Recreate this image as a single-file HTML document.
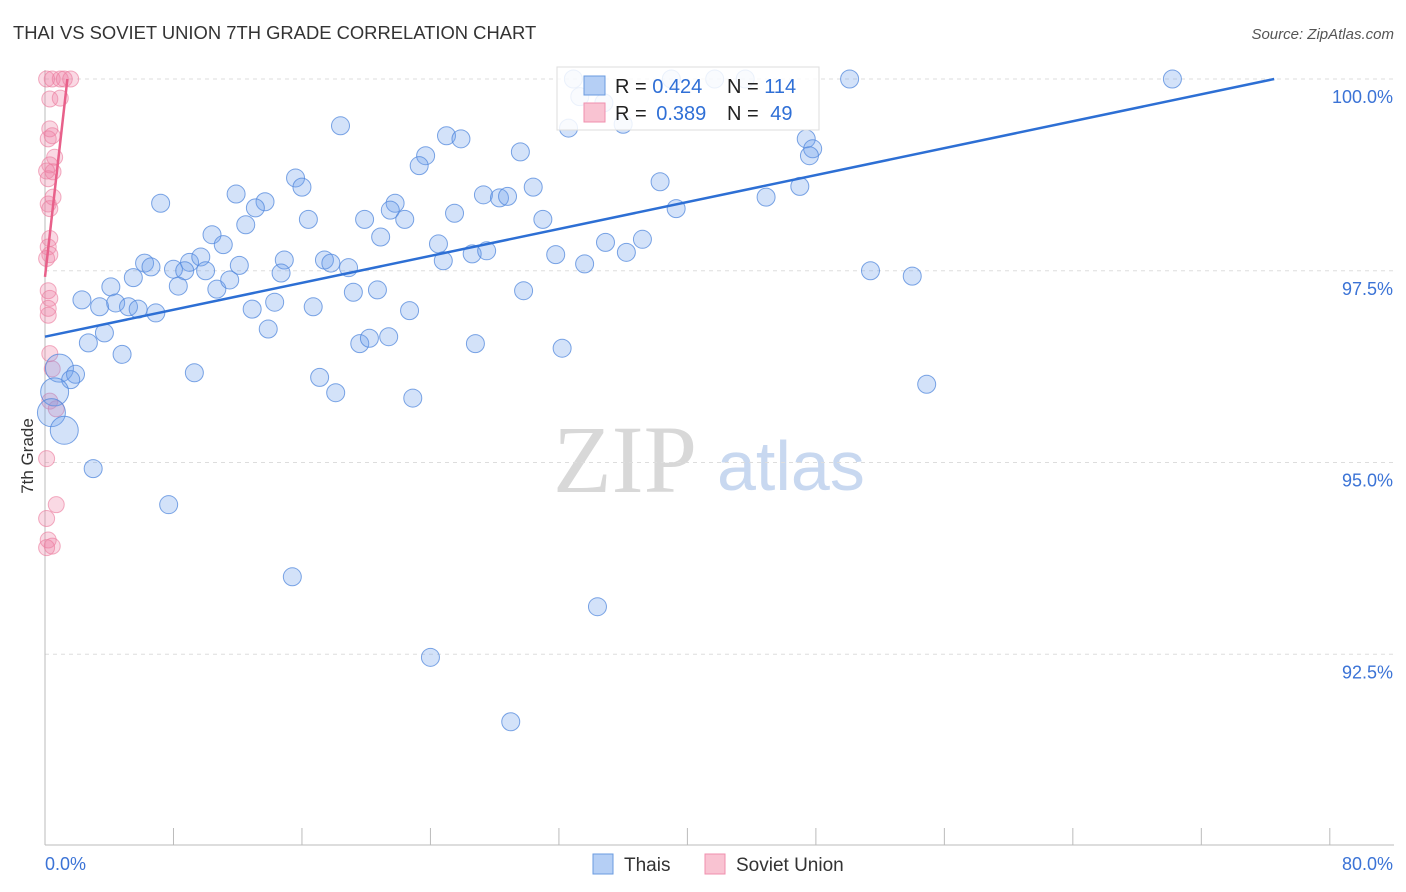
<!DOCTYPE html>
<html><head><meta charset="utf-8"><style>
body{margin:0;background:#fff;font-family:"Liberation Sans",sans-serif;}
svg{display:block}
</style></head><body>
<svg id="chart" width="1406" height="892" xmlns="http://www.w3.org/2000/svg">
<text x="13" y="39" font-size="18.4" fill="#333">THAI VS SOVIET UNION 7TH GRADE CORRELATION CHART</text>
<text x="1394" y="39" font-size="15" fill="#555" text-anchor="end" font-style="italic">Source: ZipAtlas.com</text>
<text transform="translate(33,456) rotate(-90)" font-size="17" fill="#333" text-anchor="middle">7th Grade</text>
<g>
<text x="553" y="492" font-family="Liberation Serif,serif" font-size="96" fill="#d8d8d8">ZIP</text>
<text x="717" y="490" font-size="70" fill="#c8d8f0">atlas</text>
</g>
<g id="grid"></g><g id="axes"></g><g id="pts"></g><g id="lines"></g>
<g>
<rect x="557" y="67" width="262" height="63" fill="#fff" fill-opacity="0.85" stroke="#ddd"/>
<rect x="584" y="76" width="21" height="19" fill="#b5cff5" stroke="#6a9be0"/>
<rect x="584" y="103" width="21" height="19" fill="#f9c3d2" stroke="#f08fae"/>
<text x="615" y="93" font-size="20" fill="#222">R = <tspan fill="#2f6fd6">0.424</tspan></text>
<text x="727" y="93" font-size="20" fill="#222">N = <tspan fill="#2f6fd6">114</tspan></text>
<text x="615" y="120" font-size="20" fill="#222">R = <tspan fill="#2f6fd6" dx="4">0.389</tspan></text>
<text x="727" y="120" font-size="20" fill="#222">N = <tspan fill="#2f6fd6" dx="6">49</tspan></text>
</g>
<g>
<rect x="593" y="854" width="20" height="20" fill="#b5cff5" stroke="#6a9be0"/>
<text x="624" y="871" font-size="19" fill="#333">Thais</text>
<rect x="705" y="854" width="20" height="20" fill="#f9c3d2" stroke="#f08fae"/>
<text x="736" y="871" font-size="19" fill="#333">Soviet Union</text>
</g>
</svg>
<script>
const xTicksLabels=["0.0%","80.0%"];
const yTicks=[100,97.5,95,92.5];
const thaiX=[32.9,39.0,41.7,43.6,50.1,70.2,33.3,34.8,32.6,36.0,18.4,25.0,25.9,29.6,23.7,23.3,47.4,47.8,47.6,15.6,16.0,11.9,13.7,13.1,7.2,38.3,30.4,27.3,28.3,28.8,21.8,21.5,22.4,25.5,19.9,16.4,12.5,31.0,39.3,44.9,47.0,10.4,11.1,20.9,24.5,24.8,26.6,27.5,31.8,33.6,34.9,36.2,37.2,6.2,6.6,8.0,9.0,9.7,8.7,10.0,12.1,14.9,14.7,17.4,17.8,18.9,5.5,8.3,10.7,11.5,4.1,2.3,3.4,4.4,5.2,5.8,6.9,12.9,14.3,16.7,19.2,20.7,22.7,29.8,3.7,13.9,2.7,19.6,20.2,21.4,26.8,32.2,4.8,0.9,1.9,1.6,9.3,17.1,18.1,22.9,51.4,54.0,54.9,0.6,0.4,1.2,3.0,7.7,15.4,34.4,24.0,29.0];
const thaiY=[100,100,100,100,100,100,99.77,99.69,99.36,99.41,99.39,99.26,99.22,99.05,99.0,98.87,99.22,99.09,99.0,98.71,98.59,98.5,98.4,98.32,98.38,98.66,98.59,98.49,98.45,98.47,98.38,98.29,98.17,98.25,98.17,98.17,98.1,98.17,98.31,98.46,98.6,97.97,97.84,97.94,97.85,97.63,97.72,97.76,97.71,97.59,97.87,97.74,97.91,97.6,97.55,97.52,97.61,97.68,97.5,97.5,97.57,97.64,97.47,97.64,97.6,97.54,97.41,97.3,97.26,97.38,97.29,97.12,97.03,97.08,97.03,97.0,96.95,97.0,97.09,97.03,97.22,97.25,96.98,97.24,96.69,96.74,96.56,96.55,96.62,96.64,96.55,96.49,96.41,96.23,96.15,96.08,96.17,96.11,95.91,95.84,97.5,97.43,96.02,95.92,95.65,95.42,94.92,94.45,93.51,93.12,92.46,91.62];
const thaiBig=[0.9,0.6,0.4,1.2];
const sovX=[0.1,0.45,0.95,1.2,1.6,0.3,0.95,0.3,0.45,0.2,0.6,0.3,0.5,0.1,0.2,0.5,0.2,0.3,0.3,0.2,0.3,0.1,0.2,0.3,0.2,0.2,0.3,0.45,0.3,0.7,0.1,0.7,0.1,0.2,0.45,0.1];
const sovY=[100,100,100,100,100,99.74,99.75,99.35,99.26,99.22,98.98,98.88,98.79,98.8,98.7,98.46,98.37,98.31,97.92,97.81,97.71,97.66,97.24,97.14,97.01,96.92,96.42,96.22,95.8,95.7,95.05,94.45,94.27,93.99,93.91,93.89];
const thaiTrend=[96.64,0.0439];
const sovTrend=[97.42,1.85];
const X=v=>45+v*16.06, Y=v=>79+(100-v)*76.7;
const NS="http://www.w3.org/2000/svg";
function mk(t,a,p){const e=document.createElementNS(NS,t);for(const k in a)e.setAttribute(k,a[k]);p.appendChild(e);return e;}
const grid=document.getElementById('grid'),axes=document.getElementById('axes'),pts=document.getElementById('pts'),lines=document.getElementById('lines');
yTicks.forEach(t=>{const l=mk('line',{x1:45,x2:1394,y1:Y(t),y2:Y(t),stroke:'#ddd','stroke-dasharray':'4,4'},grid);


const tx=mk('text',{x:1393,y:Y(t)+24,'font-size':18,fill:'#3b73d6','text-anchor':'end'},axes);tx.textContent=t.toFixed(1)+'%';

});
mk('line',{x1:45,x2:45,y1:70,y2:845,stroke:'#bbb'},axes);
mk('line',{x1:45,x2:1394,y1:845,y2:845,stroke:'#bbb'},axes);
for(let i=0;i<=10;i++){const t=mk('line',{x1:X(i*8),x2:X(i*8),y1:828,y2:845,stroke:'#bbb'},axes);

}
const l0=mk('text',{x:45,y:870,'font-size':18,fill:'#3b73d6'},axes);l0.textContent=xTicksLabels[0];


const l1=mk('text',{x:1393,y:870,'font-size':18,fill:'#3b73d6','text-anchor':'end'},axes);l1.textContent=xTicksLabels[1];


sovX.forEach((x,i)=>{const c=mk('circle',{cx:X(x),cy:Y(sovY[i]),r:8,fill:'rgba(240,130,165,0.3)',stroke:'rgba(235,120,155,0.6)'},pts);

});
thaiX.forEach((x,i)=>{const big=thaiBig.includes(x);const c=mk('circle',{cx:X(x),cy:Y(thaiY[i]),r:big?14:9,fill:'rgba(110,160,235,0.3)',stroke:'rgba(80,135,220,0.75)'},pts);

});
const tl=mk('line',{x1:X(0),y1:Y(thaiTrend[0]),x2:X((100-thaiTrend[0])/thaiTrend[1]),y2:Y(100),stroke:'#2d6fd4','stroke-width':2.5},lines);


const sl=mk('line',{x1:X(0),y1:Y(sovTrend[0]),x2:X((100-sovTrend[0])/sovTrend[1]),y2:Y(100),stroke:'#e8608a','stroke-width':2.5},lines);


</script>
</body></html>
